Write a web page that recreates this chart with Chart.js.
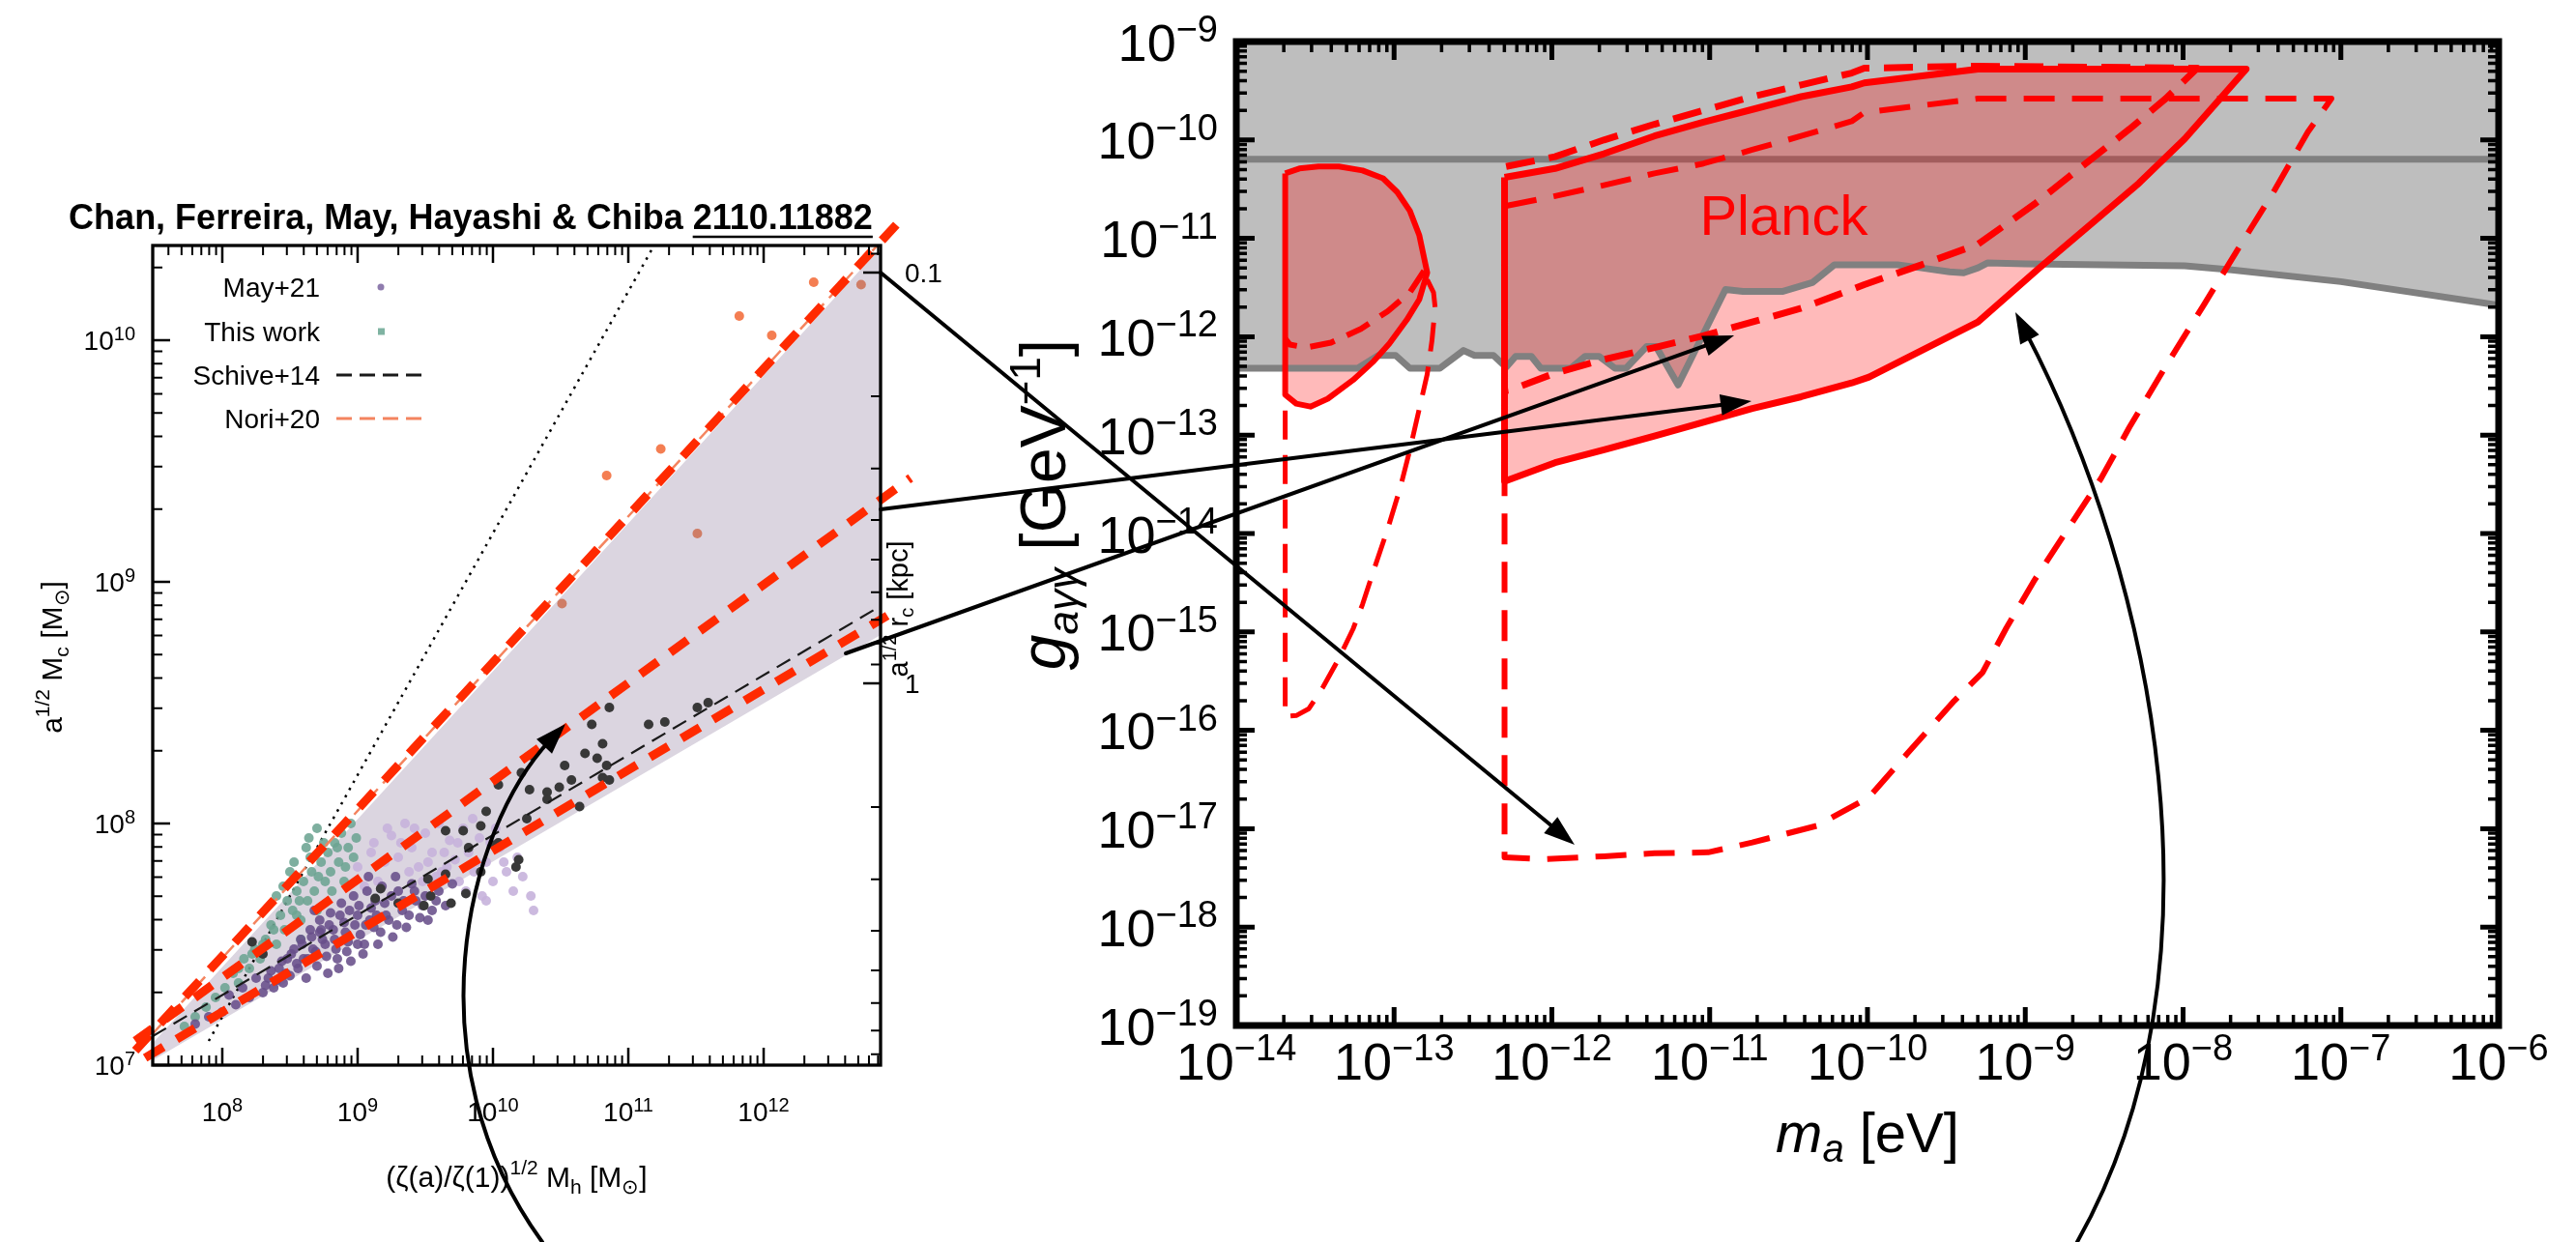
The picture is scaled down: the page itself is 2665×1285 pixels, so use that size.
<!DOCTYPE html>
<html>
<head>
<meta charset="utf-8">
<script src="https://cdn.jsdelivr.net/npm/chart.js@4.4.1/dist/chart.umd.min.js"></script>
<style>
  html, body { margin: 0; padding: 0; background: #fff; }
  #wrap { position: relative; width: 2665px; height: 1285px; }
  #wrap canvas { position: absolute; left: 0; top: 0; }
</style>
</head>
<body>
<div id="wrap">
  <canvas id="left" width="2665" height="1285"></canvas>
  <canvas id="right" width="2665" height="1285"></canvas>
</div>
<script>
// ---------------- left panel: core mass vs halo mass (log10 values) ----------------
const leftLogMhRange = [7.486, 12.864];
const leftLogMcRange = [7.0, 10.392];
const rcRange = [0.0859, 8.5];            // a^1/2 r_c [kpc], reversed, right axis
const leftXDecades = [8, 9, 10, 11, 12];
const leftYDecades = [7, 8, 9, 10];
const rcLabels = ['0.1', '1'];

const mayDarkLogMh = [8.30,8.34,8.38,8.42,8.45,8.48,8.50,8.53,8.56,8.58,8.60,8.62,8.65,8.67,8.70,8.72,8.74,8.77,8.80,8.82,8.84,8.86,8.88,8.90,8.93,8.95,8.97,9.00,9.02,9.04,9.07,9.10,9.12,9.15,9.18,9.20,9.23,9.26,9.30,9.33,9.36,9.40,9.43,9.46,9.50,9.55,9.60,9.65,9.70,8.20,8.10,8.00,7.90,7.80,8.15,8.25,8.05,9.28,9.08,8.68,
  8.32,8.36,8.40,8.44,8.47,8.51,8.55,8.59,8.63,8.66,8.69,8.73,8.76,8.79,8.83,8.87,8.91,8.94,8.98,9.01,9.05,9.09,9.13,9.17,9.21,9.25,9.29,9.34,9.38,9.42,9.48,9.52,9.58,8.85,8.78,8.92,9.00,9.06,9.14,8.72];
const mayDarkLogMc = [7.30,7.36,7.32,7.40,7.34,7.44,7.37,7.48,7.40,7.52,7.44,7.36,7.56,7.48,7.41,7.60,7.52,7.45,7.63,7.56,7.48,7.40,7.67,7.59,7.51,7.43,7.70,7.62,7.54,7.46,7.72,7.65,7.57,7.50,7.74,7.67,7.60,7.53,7.72,7.64,7.57,7.75,7.68,7.61,7.70,7.64,7.72,7.66,7.75,7.28,7.25,7.22,7.20,7.17,7.32,7.36,7.29,7.78,7.78,7.64,
  7.33,7.39,7.35,7.43,7.38,7.46,7.42,7.50,7.44,7.53,7.47,7.56,7.50,7.58,7.52,7.62,7.55,7.64,7.58,7.66,7.50,7.60,7.68,7.55,7.62,7.70,7.58,7.68,7.62,7.72,7.66,7.60,7.68,7.44,7.38,7.47,7.50,7.58,7.62,7.55];
const mayLightLogMh = [9.00,9.10,9.20,9.25,9.30,9.35,9.40,9.45,9.50,9.55,9.60,9.62,9.68,9.72,9.78,9.82,9.86,9.90,9.95,10.00,10.05,10.10,10.15,10.22,10.28,9.75,9.92,9.58,9.15,9.85,10.02,9.38,9.05,10.30,
  9.12,9.22,9.32,9.42,9.52,9.64,9.74,9.88,9.98,10.08,10.18,9.48,9.66,9.80,9.95];
const mayLightLogMc = [7.82,7.88,7.84,7.95,7.86,8.00,7.90,7.82,7.96,7.88,8.00,7.80,7.93,7.85,7.98,7.88,7.80,7.94,7.84,7.76,7.90,7.80,7.72,7.78,7.70,7.76,7.70,7.78,7.76,8.02,7.98,7.80,7.74,7.64,
  7.92,7.98,7.92,7.98,7.84,7.88,7.92,7.84,7.92,7.84,7.86,7.76,7.82,7.72,7.68];
const thisWorkLogMh = [7.72,7.80,7.88,7.95,8.02,8.08,8.12,8.16,8.20,8.24,8.28,8.32,8.36,8.40,8.43,8.46,8.48,8.52,8.55,8.58,8.60,8.63,8.66,8.68,8.70,8.73,8.76,8.78,8.80,8.83,8.86,8.88,8.90,8.93,8.95,8.97,8.99,8.50,8.62,8.40,8.58,8.70,
  8.45,8.53,8.57,8.65,8.71,8.75,8.81,8.85,8.91,8.55,8.38,8.30,8.22,8.12,8.64];
const thisWorkLogMc = [7.16,7.20,7.24,7.28,7.32,7.38,7.34,7.44,7.40,7.48,7.44,7.52,7.58,7.50,7.62,7.56,7.68,7.64,7.72,7.60,7.76,7.68,7.80,7.72,7.64,7.84,7.76,7.88,7.80,7.92,7.84,7.96,7.76,7.90,8.00,7.86,7.94,7.80,7.90,7.70,7.52,7.98,
  7.74,7.84,7.68,7.86,7.78,7.92,7.72,7.90,7.82,7.62,7.56,7.50,7.46,7.40,7.94];
const darkLogMh = [11.59,11.51,11.27,11.15,10.86,10.73,10.81,10.68,10.77,10.84,10.81,10.53,10.58,10.49,10.40,10.40,10.27,10.21,10.29,10.25,10.64,10.86,10.04,9.91,9.78,9.65,9.95,10.04,10.01,10.19,10.17,9.82,9.91,9.65,9.52,9.80,9.69,9.49,9.54,9.17,9.13,9.30,8.22,8.30];
const darkLogMc = [8.50,8.48,8.42,8.41,8.48,8.41,8.33,8.29,8.27,8.24,8.19,8.24,8.18,8.15,8.13,8.10,8.14,8.21,8.28,8.02,8.07,8.18,8.16,7.99,7.97,7.97,8.05,7.92,7.91,7.85,7.82,7.90,7.80,7.79,7.77,7.71,7.67,7.66,7.70,7.73,7.69,7.67,7.51,7.46];
const orangeLogMh = [12.37, 11.82, 12.06, 11.24, 10.84];
const orangeLogMc = [10.24, 10.10, 10.02, 9.55, 9.44];
const brownLogMh = [12.72, 11.51, 10.51];
const brownLogMc = [10.23, 9.20, 8.91];

const wedgeLogMh = [7.486, 12.864];
const wedgeTopLogMc = [7.10, 10.392];
const wedgeBotLogMc = [7.02, 8.78];
const schiveLogMh = [7.486, 12.864];
const schiveLogMc = [7.12, 8.90];
const noriLogMh = [7.486, 12.84];
const noriLogMc = [7.13, 10.392];
const dottedLogMh = [7.90, 11.19];
const dottedLogMc = [7.10, 10.392];
const redUpLogMh = [7.357, 13.0];
const redUpLogMc = [7.06, 10.49];
const redMidLogMh = [7.357, 13.086];
const redMidLogMc = [7.10, 9.43];
const redLowLogMh = [7.43, 12.914];
const redLowLogMc = [7.03, 8.86];

// ---------------- right panel: g_agg vs m_a (log10 values) ----------------
const rightLogMRange = [-14, -6];
const rightLogGRange = [-19, -9];
const rightXDecades = [-14, -13, -12, -11, -10, -9, -8, -7, -6];
const rightYDecades = [-19, -18, -17, -16, -15, -14, -13, -12, -11, -10, -9];

const grayCurve = [[-14,-12.32],[-13.23,-12.32],[-13.10,-12.19],[-12.99,-12.19],[-12.90,-12.32],[-12.71,-12.32],[-12.56,-12.14],[-12.49,-12.19],[-12.37,-12.19],[-12.29,-12.31],[-12.23,-12.20],[-12.13,-12.20],[-12.07,-12.32],[-11.88,-12.32],[-11.79,-12.20],[-11.70,-12.20],[-11.60,-12.32],[-11.53,-12.32],[-11.40,-12.10],[-11.34,-12.10],[-11.20,-12.49],[-10.90,-11.52],[-10.79,-11.54],[-10.54,-11.54],[-10.35,-11.45],[-10.21,-11.27],[-9.81,-11.27],[-9.66,-11.30],[-9.48,-11.34],[-9.39,-11.35],[-9.30,-11.30],[-9.24,-11.25],[-9.00,-11.26],[-7.99,-11.28],[-7.69,-11.32],[-7.00,-11.44],[-6.00,-11.68]];
const castCurve = [[-14,-10.195],[-6,-10.195]];
const loopSolid = [[-13.69,-10.34],[-13.60,-10.29],[-13.48,-10.27],[-13.35,-10.27],[-13.20,-10.31],[-13.07,-10.39],[-12.98,-10.53],[-12.90,-10.72],[-12.84,-10.97],[-12.79,-11.35],[-12.84,-11.62],[-12.92,-11.83],[-13.03,-12.07],[-13.13,-12.25],[-13.26,-12.44],[-13.42,-12.63],[-13.53,-12.71],[-13.62,-12.68],[-13.69,-12.59],[-13.69,-10.34]];
const loopDashIn = [[-12.81,-11.33],[-12.90,-11.55],[-13.04,-11.74],[-13.21,-11.92],[-13.40,-12.06],[-13.56,-12.11],[-13.66,-12.08],[-13.69,-12.02]];
const loopDashOut = [[-12.79,-11.42],[-12.75,-11.55],[-12.74,-11.70],[-12.76,-12.04],[-12.79,-12.38],[-12.84,-12.73],[-12.90,-13.15],[-12.96,-13.53],[-13.04,-13.95],[-13.12,-14.33],[-13.20,-14.72],[-13.26,-14.97],[-13.35,-15.27],[-13.45,-15.56],[-13.54,-15.78],[-13.62,-15.85],[-13.69,-15.86],[-13.69,-12.60]];
const planckSolid = [[-12.30,-10.38],[-11.98,-10.29],[-11.67,-10.14],[-11.35,-9.96],[-11.04,-9.82],[-10.73,-9.69],[-10.42,-9.56],[-10.10,-9.46],[-10.02,-9.42],[-9.30,-9.28],[-7.60,-9.28],[-7.99,-9.99],[-8.28,-10.44],[-8.58,-10.85],[-8.91,-11.30],[-9.30,-11.85],[-9.99,-12.41],[-10.10,-12.47],[-10.42,-12.61],[-10.73,-12.73],[-11.04,-12.87],[-11.35,-13.01],[-11.67,-13.15],[-11.98,-13.28],[-12.30,-13.47],[-12.30,-10.38]];
const planckDashIn = [[-12.29,-10.27],[-11.98,-10.17],[-11.67,-10.00],[-11.35,-9.84],[-11.04,-9.70],[-10.73,-9.56],[-10.42,-9.44],[-10.10,-9.32],[-10.02,-9.27],[-9.30,-9.25],[-7.91,-9.27],[-8.11,-9.58],[-8.34,-9.89],[-8.61,-10.23],[-8.94,-10.65],[-9.30,-11.06],[-9.66,-11.27],[-10.02,-11.47],[-10.20,-11.58],[-10.42,-11.71],[-10.73,-11.85],[-11.04,-11.99],[-11.35,-12.11],[-11.67,-12.23],[-11.98,-12.37],[-12.26,-12.54],[-12.30,-12.55]];
const planckDashOut = [[-12.29,-10.67],[-11.98,-10.57],[-11.67,-10.46],[-11.35,-10.34],[-11.04,-10.24],[-10.73,-10.10],[-10.42,-9.96],[-10.10,-9.81],[-10.02,-9.72],[-9.30,-9.58],[-7.06,-9.58],[-7.21,-9.92],[-7.42,-10.51],[-7.66,-11.13],[-7.87,-11.68],[-8.11,-12.30],[-8.34,-12.92],[-8.52,-13.44],[-8.70,-13.88],[-8.94,-14.47],[-9.12,-14.96],[-9.27,-15.41],[-9.45,-15.70],[-9.75,-16.24],[-9.99,-16.68],[-10.32,-16.97],[-10.73,-17.14],[-11.01,-17.24],[-11.35,-17.25],[-11.67,-17.28],[-12.04,-17.31],[-12.30,-17.29],[-12.30,-10.67]];
const planckLabelAt = [-10.53, -10.81];

// ---------------- annotation arrows ----------------
// straight arrows: start in left-panel data, tip in right-panel data
const arrowStartLogMh = [12.864, 12.864, 12.607];
const arrowStartLogMc = [10.28, 9.30, 8.704];
const arrowTipLogM = [-11.856, -10.735, -10.845];
const arrowTipLogG = [-17.163, -12.654, -11.986];
// curved arrows (cubic control points)
const leftCurveLogMh = [10.364, 9.40, 9.786, 10.536];
const leftCurveLogMc = [6.268, 7.008, 7.968, 8.412];
const rightCurveLogM = [-8.671, -7.685, -8.175, -9.063];
const rightCurveLogG = [-21.2, -18.401, -14.472, -11.75];

// ---------------- helpers ----------------
const FONT = "'Liberation Sans', Arial, Helvetica, sans-serif";
const pts = (xs, ys) => xs.map((v, i) => ({ x: 10 ** v, y: 10 ** ys[i] }));
const pairPts = list => list.map(p => ({ x: 10 ** p[0], y: 10 ** p[1] }));

function fontStr(p) {
  return (p.italic ? 'italic ' : '') + (p.bold ? 'bold ' : '') + p.size + 'px ' + FONT;
}

function drawRich(ctx, parts, x, y, align) {
  let total = 0;
  parts.forEach(p => { ctx.font = fontStr(p); p.w = ctx.measureText(p.t).width; total += p.w; });
  let cx = align === 'center' ? x - total / 2 : (align === 'right' ? x - total : x);
  ctx.textAlign = 'left';
  ctx.textBaseline = 'alphabetic';
  parts.forEach(p => { ctx.font = fontStr(p); p.x = cx; ctx.fillText(p.t, cx, y + (p.dy || 0)); cx += p.w; });
  return parts;
}

function powerLabel(exp, big, small) {
  const e = exp < 0 ? '\u2212' + (-exp) : String(exp);
  return [{ t: '10', size: big }, { t: e, size: small, dy: -0.36 * big }];
}

function logTicks(min, max) {
  const major = [], minor = [];
  for (let d = Math.floor(Math.log10(min)); d <= Math.ceil(Math.log10(max)); d++) {
    for (let m = 1; m <= 9; m++) {
      const v = m * 10 ** d;
      if (v < min * 0.999 || v > max * 1.001) continue;
      (m === 1 ? major : minor).push(v);
    }
  }
  return { major, minor };
}

function drawLogTicks(ctx, a, s, o) {
  const t = logTicks(s.min, s.max);
  [[t.minor, o.minor, o.wMinor], [t.major, o.major, o.wMajor]].forEach(([vals, len, w]) => {
    ctx.lineWidth = w;
    ctx.beginPath();
    vals.forEach(v => {
      const p = s.getPixelForValue(v);
      o.sides.forEach(side => {
        if (side === 'bottom') { ctx.moveTo(p, a.bottom); ctx.lineTo(p, a.bottom - len); }
        if (side === 'top') { ctx.moveTo(p, a.top); ctx.lineTo(p, a.top + len); }
        if (side === 'left') { ctx.moveTo(a.left, p); ctx.lineTo(a.left + len, p); }
        if (side === 'right') { ctx.moveTo(a.right, p); ctx.lineTo(a.right - len, p); }
      });
    });
    ctx.stroke();
  });
}

function arrowHead(ctx, x, y, ux, uy, L, W) {
  const bx = x - ux * L, by = y - uy * L;
  ctx.beginPath();
  ctx.moveTo(x, y);
  ctx.lineTo(bx - uy * W, by + ux * W);
  ctx.lineTo(bx + uy * W, by - ux * W);
  ctx.closePath();
  ctx.fill();
}

function rotatedRich(ctx, parts, x, y) {
  ctx.save();
  ctx.translate(x, y);
  ctx.rotate(-Math.PI / 2);
  drawRich(ctx, parts, 0, 0, 'center');
  ctx.restore();
}

function pointSet(label, xs, ys, color, order) {
  return { label, data: pts(xs, ys), showLine: false, pointRadius: 5, pointBorderWidth: 0,
    pointBackgroundColor: color, borderColor: color, order };
}

function lineSet(label, data, color, width, dash, order, extra) {
  return Object.assign({ label, data, borderColor: color, borderWidth: width, borderDash: dash || [],
    pointRadius: 0, fill: false, order, borderJoinStyle: 'round' }, extra || {});
}

// ---------------- left chart ----------------
const leftDecor = {
  id: 'leftDecor',
  afterDatasetsDraw(chart) {
    const { ctx, chartArea: a } = chart;
    const { x, y, yr } = chart.scales;
    ctx.save();
    ctx.strokeStyle = '#000';
    ctx.fillStyle = '#000';
    drawLogTicks(ctx, a, x, { major: 18, minor: 10, wMajor: 2.5, wMinor: 2, sides: ['bottom', 'top'] });
    drawLogTicks(ctx, a, y, { major: 18, minor: 10, wMajor: 2.5, wMinor: 2, sides: ['left'] });
    drawLogTicks(ctx, a, yr, { major: 18, minor: 10, wMajor: 2.5, wMinor: 2, sides: ['right'] });
    ctx.lineWidth = 3.3;
    ctx.strokeRect(a.left, a.top, a.right - a.left, a.bottom - a.top);

    leftXDecades.forEach(e => drawRich(ctx, powerLabel(e, 28, 20), x.getPixelForValue(10 ** e), a.bottom + 48 + 10, 'center'));
    leftYDecades.forEach(e => drawRich(ctx, powerLabel(e, 28, 20), a.left - 18, y.getPixelForValue(10 ** e) + 10, 'right'));
    rcLabels.forEach(t => drawRich(ctx, [{ t, size: 28 }], a.right + 25, yr.getPixelForValue(parseFloat(t)) + 10, 'left'));

    // axis titles
    drawRich(ctx, [{ t: '(\u03B6(a)/\u03B6(1))', size: 30 }, { t: '1/2', size: 21, dy: -13 }, { t: ' M', size: 30 },
      { t: 'h', size: 21, dy: 7 }, { t: ' [M', size: 30 }, { t: '\u2299', size: 21, dy: 7 }, { t: ']', size: 30 }],
      (a.left + a.right) / 2, a.bottom + 126, 'center');
    rotatedRich(ctx, [{ t: 'a', size: 30 }, { t: '1/2', size: 21, dy: -13 }, { t: ' M', size: 30 },
      { t: 'c', size: 21, dy: 7 }, { t: ' [M', size: 30 }, { t: '\u2299', size: 21, dy: 7 }, { t: ']', size: 30 }], 64, 680);
    rotatedRich(ctx, [{ t: 'a', size: 29 }, { t: '1/2', size: 20, dy: -12 }, { t: ' r', size: 29 },
      { t: 'c', size: 20, dy: 6 }, { t: ' [kpc]', size: 29 }], a.right + 28, 630);

    // title with underlined arXiv number
    const tp = drawRich(ctx, [{ t: 'Chan, Ferreira, May, Hayashi & Chiba ', size: 36, bold: true },
      { t: '2110.11882', size: 36, bold: true }], 487, 237, 'center');
    ctx.lineWidth = 2.5;
    ctx.beginPath();
    ctx.moveTo(tp[1].x, 245);
    ctx.lineTo(tp[1].x + tp[1].w, 245);
    ctx.stroke();

    // legend (text right aligned, sample on the right)
    const rows = [297, 343, 388, 433];
    const ds = chart.data.datasets;
    const items = [ds[5], ds[4], ds[9], ds[10]];
    items.forEach((d, i) => {
      ctx.fillStyle = '#000';
      drawRich(ctx, [{ t: d.label, size: 28 }], 331, rows[i] + 10, 'right');
    });
    ctx.fillStyle = '#8f7cae';
    ctx.beginPath(); ctx.arc(394, rows[0], 3.5, 0, Math.PI * 2); ctx.fill();
    ctx.fillStyle = '#7fb3a2';
    ctx.fillRect(391, rows[1] - 3.5, 7, 7);
    [[ds[9], rows[2]], [ds[10], rows[3]]].forEach(([d, yy]) => {
      ctx.strokeStyle = d.borderColor;
      ctx.lineWidth = 3;
      ctx.setLineDash([16, 8]);
      ctx.beginPath(); ctx.moveTo(348, yy); ctx.lineTo(438, yy); ctx.stroke();
      ctx.setLineDash([]);
    });
    ctx.restore();
  }
};

const leftChart = new Chart(document.getElementById('left'), {
  type: 'line',
  data: {
    datasets: [
      lineSet('wedge', pts(wedgeLogMh, wedgeTopLogMc), '#ffffff', 3, null, 40, { fill: 1, backgroundColor: '#dbd5e0' }),
      lineSet('wedge-low', pts(wedgeLogMh, wedgeBotLogMc), 'rgba(0,0,0,0)', 0, null, 41),
      lineSet('dotted', pts(dottedLogMh, dottedLogMc), '#000000', 2.5, [2.5, 6], 35),
      pointSet('May+21 light', mayLightLogMh, mayLightLogMc, 'rgba(198,178,220,0.9)', 30),
      pointSet('This work', thisWorkLogMh, thisWorkLogMc, 'rgba(108,164,146,0.88)', 29),
      pointSet('May+21', mayDarkLogMh, mayDarkLogMc, 'rgba(104,78,138,0.88)', 28),
      pointSet('dark', darkLogMh, darkLogMc, '#383838', 27),
      pointSet('orange', orangeLogMh, orangeLogMc, '#f47e52', 26),
      pointSet('brown', brownLogMh, brownLogMc, '#cf7d66', 26),
      lineSet('Schive+14', pts(schiveLogMh, schiveLogMc), '#1a1a1a', 2.2, [16, 9], 10),
      lineSet('Nori+20', pts(noriLogMh, noriLogMc), '#f4845f', 2.5, [14, 8], 10),
      lineSet('red-up', pts(redUpLogMh, redUpLogMc), '#ff2a00', 9, [22, 16], 1, { clip: false }),
      lineSet('red-mid', pts(redMidLogMh, redMidLogMc), '#ff2a00', 9, [22, 16], 1, { clip: false }),
      lineSet('red-low', pts(redLowLogMh, redLowLogMc), '#ff2a00', 9, [22, 16], 1, { clip: false })
    ]
  },
  options: {
    responsive: false,
    animation: false,
    events: [],
    devicePixelRatio: 1,
    layout: { padding: { left: 158, top: 254, right: 1754, bottom: 183 } },
    plugins: { legend: { display: false }, tooltip: { enabled: false }, title: { display: false } },
    scales: {
      x: { type: 'logarithmic', min: 10 ** leftLogMhRange[0], max: 10 ** leftLogMhRange[1], display: false },
      y: { type: 'logarithmic', min: 10 ** leftLogMcRange[0], max: 10 ** leftLogMcRange[1], display: false },
      yr: { type: 'logarithmic', axis: 'y', position: 'right', reverse: true, min: rcRange[0], max: rcRange[1], display: false }
    }
  },
  plugins: [leftDecor]
});

// ---------------- right chart ----------------
const rightDecor = {
  id: 'rightDecor',
  afterDatasetsDraw(chart) {
    const { ctx, chartArea: a } = chart;
    const { x, y } = chart.scales;
    ctx.save();
    ctx.fillStyle = '#ff0000';
    ctx.font = '58px ' + FONT;
    ctx.textAlign = 'center';
    ctx.textBaseline = 'middle';
    ctx.fillText('Planck', x.getPixelForValue(10 ** planckLabelAt[0]), y.getPixelForValue(10 ** planckLabelAt[1]));

    ctx.strokeStyle = '#000';
    ctx.fillStyle = '#000';
    drawLogTicks(ctx, a, x, { major: 19, minor: 11, wMajor: 5, wMinor: 3.5, sides: ['bottom', 'top'] });
    drawLogTicks(ctx, a, y, { major: 19, minor: 11, wMajor: 5, wMinor: 3.5, sides: ['left', 'right'] });
    ctx.lineWidth = 7;
    ctx.strokeRect(a.left, a.top, a.right - a.left, a.bottom - a.top);

    rightXDecades.forEach(e => drawRich(ctx, powerLabel(e, 54, 38), x.getPixelForValue(10 ** e), a.bottom + 36 + 19.5, 'center'));
    rightYDecades.forEach(e => drawRich(ctx, powerLabel(e, 54, 38), a.left - 19, y.getPixelForValue(10 ** e) + 19.5, 'right'));

    drawRich(ctx, [{ t: 'm', size: 58, italic: true }, { t: 'a', size: 40, italic: true, dy: 10 }, { t: ' [eV]', size: 58 }],
      (a.left + a.right) / 2, a.bottom + 131, 'center');
    rotatedRich(ctx, [{ t: 'g', size: 66, italic: true }, { t: 'a\u03B3\u03B3', size: 44, italic: true, dy: 13 },
      { t: ' [GeV', size: 66 }, { t: '\u22121', size: 44, dy: -26 }, { t: ']', size: 66 }], 1102, 522);
    ctx.restore();
  },
  afterDraw(chart) {
    const { ctx } = chart;
    const lx = leftChart.scales.x, ly = leftChart.scales.y;
    const rx = chart.scales.x, ry = chart.scales.y;
    ctx.save();
    ctx.strokeStyle = '#000';
    ctx.fillStyle = '#000';
    ctx.lineWidth = 4;
    ctx.lineCap = 'round';
    arrowStartLogMh.forEach((v, i) => {
      const x0 = lx.getPixelForValue(10 ** v), y0 = ly.getPixelForValue(10 ** arrowStartLogMc[i]);
      const x1 = rx.getPixelForValue(10 ** arrowTipLogM[i]), y1 = ry.getPixelForValue(10 ** arrowTipLogG[i]);
      const len = Math.hypot(x1 - x0, y1 - y0), ux = (x1 - x0) / len, uy = (y1 - y0) / len;
      ctx.beginPath(); ctx.moveTo(x0, y0); ctx.lineTo(x1 - ux * 22, y1 - uy * 22); ctx.stroke();
      arrowHead(ctx, x1, y1, ux, uy, 32, 11);
    });
    const curve = (sx, sy, xs, ys) => {
      const P = xs.map((v, i) => [sx.getPixelForValue(10 ** v), sy.getPixelForValue(10 ** ys[i])]);
      const dx = P[3][0] - P[2][0], dy = P[3][1] - P[2][1], d = Math.hypot(dx, dy);
      const ux = dx / d, uy = dy / d;
      ctx.beginPath();
      ctx.moveTo(P[0][0], P[0][1]);
      ctx.bezierCurveTo(P[1][0], P[1][1], P[2][0], P[2][1], P[3][0] - ux * 22, P[3][1] - uy * 22);
      ctx.stroke();
      arrowHead(ctx, P[3][0], P[3][1], ux, uy, 32, 11);
    };
    curve(lx, ly, leftCurveLogMh, leftCurveLogMc);
    curve(rx, ry, rightCurveLogM, rightCurveLogG);
    ctx.restore();
  }
};

const pinkFill = 'rgba(255,0,0,0.27)';
const clear = 'rgba(0,0,0,0)';

new Chart(document.getElementById('right'), {
  type: 'line',
  data: {
    datasets: [
      lineSet('excluded', pairPts(grayCurve), clear, 0, null, 50, { fill: 'end', backgroundColor: '#bebebe' }),
      lineSet('cast', pairPts(castCurve), '#808080', 7, null, 45),
      lineSet('loop fill', pairPts(loopSolid), clear, 0, null, 40, { fill: 'shape', backgroundColor: pinkFill }),
      lineSet('planck fill', pairPts(planckSolid), clear, 0, null, 40, { fill: 'shape', backgroundColor: pinkFill }),
      lineSet('excluded edge', pairPts(grayCurve), '#808080', 7, null, 35),
      lineSet('loop', pairPts(loopSolid), '#ff0000', 6, null, 10),
      lineSet('Planck', pairPts(planckSolid), '#ff0000', 7, null, 10),
      lineSet('loop dashed', pairPts(loopDashIn), '#ff0000', 6, [26, 14], 5),
      lineSet('loop dashed outer', pairPts(loopDashOut), '#ff0000', 5, [30, 16], 5),
      lineSet('Planck dashed', pairPts(planckDashIn), '#ff0000', 7, [30, 15], 5),
      lineSet('Planck dashed outer', pairPts(planckDashOut), '#ff0000', 6, [32, 18], 5)
    ]
  },
  options: {
    responsive: false,
    animation: false,
    events: [],
    devicePixelRatio: 1,
    layout: { padding: { left: 1279, top: 43, right: 80, bottom: 224 } },
    plugins: { legend: { display: false }, tooltip: { enabled: false }, title: { display: false } },
    scales: {
      x: { type: 'logarithmic', min: 10 ** rightLogMRange[0], max: 10 ** rightLogMRange[1], display: false },
      y: { type: 'logarithmic', min: 10 ** rightLogGRange[0], max: 10 ** rightLogGRange[1], display: false }
    }
  },
  plugins: [rightDecor]
});
</script>
</body>
</html>
